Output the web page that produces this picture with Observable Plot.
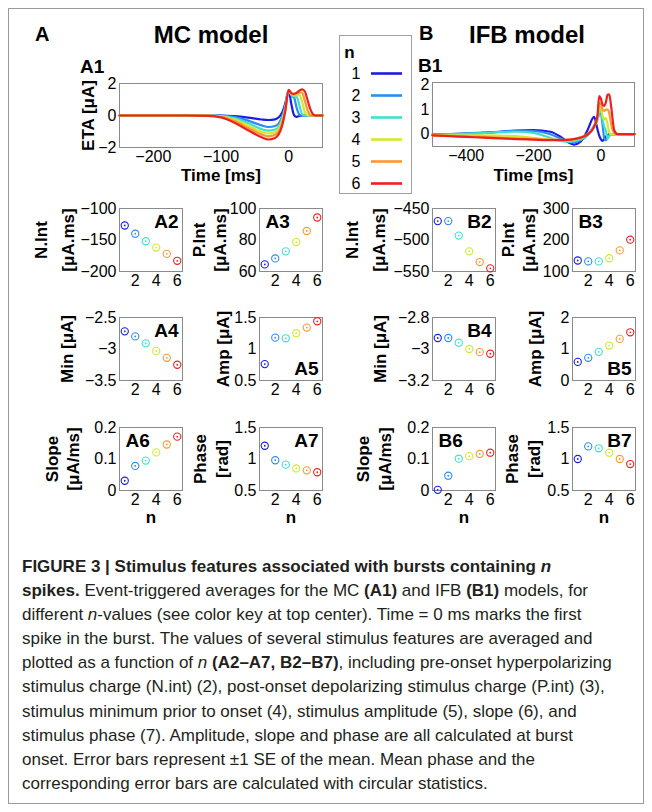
<!DOCTYPE html>
<html><head><meta charset="utf-8">
<script src="https://cdn.jsdelivr.net/npm/d3@7"></script>
<script src="https://cdn.jsdelivr.net/npm/@observablehq/plot@0.6"></script>
<style>
body{margin:0;background:#fff;}
#root{position:relative;width:652px;height:812px;font-family:"Liberation Sans",Arial,sans-serif;overflow:hidden;background:#fff;}
#border{position:absolute;left:8px;top:8px;width:634px;height:794px;border:1.5px solid #9a9a9a;}
.t{position:absolute;font-weight:bold;color:#000;white-space:nowrap;line-height:1;}
#legendbox{position:absolute;left:339px;top:35px;width:71px;height:157px;border:1px solid #a0a0a0;}
#caption{position:absolute;left:22px;top:555px;font-size:17px;line-height:24.1px;color:#231f20;}
#caption div{white-space:nowrap;}
</style></head>
<body>
<div id="root">
  <div id="border"></div>
  <div class="t" style="left:35px;top:24px;font-size:20px;">A</div>
  <div class="t" style="left:211px;top:23px;font-size:24px;transform:translateX(-50%);">MC model</div>
  <div class="t" style="left:419px;top:23px;font-size:20px;">B</div>
  <div class="t" style="left:527px;top:23px;font-size:24px;transform:translateX(-50%);">IFB model</div>
  <div class="t" style="left:80px;top:57px;font-size:19px;">A1</div>
  <div class="t" style="left:418px;top:56px;font-size:19px;">B1</div>
  <div id="legendbox"></div>
  <div id="caption">
    <div><b>FIGURE 3 | Stimulus features associated with bursts containing <i>n</i></b></div>
    <div><b>spikes.</b> Event-triggered averages for the MC <b>(A1)</b> and IFB <b>(B1)</b> models, for</div>
    <div>different <i>n</i>-values (see color key at top center). Time = 0 ms marks the first</div>
    <div>spike in the burst. The values of several stimulus features are averaged and</div>
    <div>plotted as a function of <i>n</i> <b>(A2–A7, B2–B7)</b>, including pre-onset hyperpolarizing</div>
    <div>stimulus charge (N.int) (2), post-onset depolarizing stimulus charge (P.int) (3),</div>
    <div>stimulus minimum prior to onset (4), stimulus amplitude (5), slope (6), and</div>
    <div>stimulus phase (7). Amplitude, slope and phase are all calculated at burst</div>
    <div>onset. Error bars represent ±1 SE of the mean. Mean phase and the</div>
    <div>corresponding error bars are calculated with circular statistics.</div>
  </div>
</div>
<script>
// ---------- data ----------
const nValues = [1, 2, 3, 4, 5, 6];
const colors = ["#1c1ce6", "#2b8cf2", "#3fe0d0", "#d2ea2a", "#ff9730", "#ee2020"];

// MC model event-triggered averages (A1)
const tMC = [-250,-200,-150,-120,-100,-80,-60,-40,-30,-20,-10,-5,0,4,8,12,16,20,24,28,32,36,40,50];
const mcEta1 = [0,0,0,0,0,-0.04,-0.13,-0.25,-0.28,-0.24,0.15,0.75,1.55,0.7,0.02,-0.08,-0.03,0,0,0,0,0,0,0];
const mcEta2 = [0,0,0,0,-0.01,-0.1,-0.32,-0.62,-0.72,-0.66,-0.1,0.6,1.55,1.25,1.12,0.45,0.05,0,0,0,0,0,0,0];
const mcEta3 = [0,0,0,0,-0.03,-0.18,-0.47,-0.85,-0.95,-0.88,-0.25,0.5,1.55,1.3,1.2,1.15,0.6,0.08,0,0,0,0,0,0];
const mcEta4 = [0,0,0,0,-0.05,-0.26,-0.62,-1.02,-1.12,-1.04,-0.38,0.42,1.55,1.33,1.25,1.27,1.28,0.85,0.2,0.02,0,0,0,0];
const mcEta5 = [0,0,0,-0.01,-0.08,-0.35,-0.77,-1.18,-1.3,-1.2,-0.52,0.35,1.57,1.36,1.3,1.36,1.45,1.42,0.9,0.3,0.03,0,0,0];
const mcEta6 = [0,0,0,-0.02,-0.12,-0.45,-0.92,-1.36,-1.5,-1.4,-0.68,0.28,1.6,1.4,1.35,1.43,1.56,1.63,1.5,0.95,0.4,0.08,0,0];

// IFB model event-triggered averages (B1)
const tIFB = [-500,-450,-400,-350,-300,-250,-200,-150,-120,-100,-80,-60,-40,-20,-10,-5,0,5,10,15,20,25,30,40,50,100];
const ifbEta1 = [-0.02,0,0.02,0.05,0.1,0.15,0.17,0.1,-0.1,-0.3,-0.42,-0.3,0.15,0.7,0.2,-0.05,-0.2,-0.27,-0.2,-0.1,-0.05,0,0,0,0,0];
const ifbEta2 = [-0.02,0,0.03,0.06,0.1,0.14,0.13,0,-0.18,-0.3,-0.33,-0.25,-0.05,0.35,0.6,0.8,0.85,0.4,-0.15,-0.25,-0.12,-0.03,0,0,0,0];
const ifbEta3 = [-0.03,-0.01,0.01,0.04,0.08,0.1,0.05,-0.15,-0.27,-0.3,-0.28,-0.2,-0.05,0.3,0.6,0.9,1.0,0.6,0.3,0.15,-0.18,-0.08,0,0,0,0];
const ifbEta4 = [-0.05,-0.05,-0.05,-0.05,-0.06,-0.08,-0.15,-0.22,-0.25,-0.25,-0.22,-0.15,-0.02,0.3,0.65,1.1,1.1,0.75,0.6,0.65,0.4,0.08,0,0,0,0];
const ifbEta5 = [-0.05,-0.07,-0.09,-0.11,-0.14,-0.17,-0.2,-0.22,-0.23,-0.22,-0.2,-0.13,0,0.3,0.7,1.25,1.25,1.0,0.95,1.0,1.0,0.85,0.45,0.03,0,0];
const ifbEta6 = [-0.05,-0.08,-0.11,-0.14,-0.17,-0.2,-0.22,-0.24,-0.24,-0.23,-0.2,-0.14,-0.02,0.3,0.75,1.55,1.45,1.2,1.15,1.3,1.6,1.62,1.2,0.15,0,0];

// stimulus features vs n
const mcNInt  = [-127, -140, -152, -162, -172, -183];
const mcPInt  = [64.5, 68.3, 72.8, 78.7, 85.7, 94.3];
const mcMin   = [-2.72, -2.80, -2.91, -3.03, -3.14, -3.25];
const mcAmp   = [0.76, 1.18, 1.17, 1.25, 1.34, 1.44];
const mcSlope = [0.031, 0.078, 0.095, 0.121, 0.146, 0.171];
const mcPhase = [1.21, 0.98, 0.91, 0.85, 0.82, 0.79];
const ifbNInt  = [-470, -470, -493, -518, -535, -545];
const ifbPInt  = [135, 132, 132, 142, 167, 201];
const ifbMin   = [-2.93, -2.93, -2.96, -3.00, -3.02, -3.03];
const ifbAmp   = [0.59, 0.72, 0.91, 1.11, 1.32, 1.53];
const ifbSlope = [0.002, 0.047, 0.101, 0.109, 0.116, 0.120];
const ifbPhase = [1.0, 1.2, 1.17, 1.1, 1.0, 0.92];

// tick labels
const nTicks = [2, 4, 6];
const ticksA1x = [-200, -100, 0], ticksA1y = [-2, 0, 2];
const ticksB1x = [-400, -200, 0], ticksB1y = [0, 1, 2];
const ticksNIntMC = [-200, -150, -100], ticksPIntMC = [60, 80, 100];
const ticksMinMC = [-3.5, -3, -2.5], ticksAmpMC = [0.5, 1, 1.5];
const ticksSlope = [0, 0.1, 0.2], ticksPhase = [0.5, 1, 1.5];
const ticksNIntIFB = [-550, -500, -450], ticksPIntIFB = [100, 200, 300];
const ticksMinIFB = [-3.2, -3, -2.8], ticksAmpIFB = [0, 1, 2];

// ---------- drawing ----------
const fmt = d3.format("");
const root = document.getElementById("root");
const FONT = "'Liberation Sans', Arial, sans-serif";
function place(el, left, top) {
  el.style.position = "absolute";
  el.style.left = left + "px";
  el.style.top = top + "px";
  root.appendChild(el);
}
const ML = 110, MR = 14, MT = 12, MB = 48;
function chart({fx, fy, fw, fh, xDomain, xTicks, yDomain, yTicks, marks, ylabels, xlabel, xlabelDy, tag, tagAnchor}) {
  const m = [Plot.frame({stroke: "#8a8a8a", strokeWidth: 1}), ...marks];
  (ylabels || []).forEach(([t, dx]) => m.push(Plot.text([t], {text: d => d, frameAnchor: "left", dx, rotate: -90, textAnchor: "middle", lineAnchor: "middle", fontWeight: "bold", fontSize: 17})));
  if (xlabel) m.push(Plot.text([xlabel], {text: d => d, frameAnchor: "bottom", dy: xlabelDy, lineAnchor: "middle", fontWeight: "bold", fontSize: 17}));
  if (tag) {
    const right = tagAnchor.includes("right");
    const bottom = tagAnchor.includes("bottom");
    m.push(Plot.text([tag], {text: d => d, frameAnchor: tagAnchor, dx: right ? -4 : 6, dy: bottom ? -6 : 6, fontWeight: "bold", fontSize: 19}));
  }
  const svg = Plot.plot({
    width: fw + ML + MR, height: fh + MT + MB,
    marginLeft: ML, marginRight: MR, marginTop: MT, marginBottom: MB,
    style: {fontFamily: FONT, fontSize: "16px", overflow: "visible", background: "none", color: "#000"},
    x: {domain: xDomain, ticks: xTicks, tickFormat: fmt, tickSize: 0, tickPadding: 3, label: null},
    y: {domain: yDomain, ticks: yTicks, tickFormat: fmt, tickSize: 0, tickPadding: 3, label: null},
    color: {type: "ordinal", domain: nValues, range: colors},
    marks: m
  });
  place(svg, fx - ML, fy - MT);
}

function lineRows(times, series) {
  return series.flatMap((arr, i) => arr.map((v, j) => ({n: nValues[i], t: times[j], v})));
}
function dotMarks(values) {
  const rows = nValues.map((n, i) => ({n, v: values[i]}));
  return [
    Plot.dot(rows, {x: "n", y: "v", r: 3.6, stroke: "n", strokeWidth: 1.1, fill: "none"}),
    Plot.dot(rows, {x: "n", y: "v", r: 0.9, fill: "n", stroke: "none"})
  ];
}

// A1
chart({fx: 119, fy: 83, fw: 203, fh: 64, xDomain: [-250, 50], xTicks: ticksA1x, yDomain: [-2, 2], yTicks: ticksA1y,
  marks: [Plot.line(lineRows(tMC, [mcEta1, mcEta2, mcEta3, mcEta4, mcEta5, mcEta6]), {x: "t", y: "v", z: "n", stroke: "n", strokeWidth: 2.2, curve: "monotone-x"})],
  ylabels: [["ETA [μA]", -31]], xlabel: "Time [ms]", xlabelDy: 28});
// B1
chart({fx: 432, fy: 82, fw: 202, fh: 64, xDomain: [-500, 100], xTicks: ticksB1x, yDomain: [-0.5, 2.1], yTicks: ticksB1y,
  marks: [Plot.line(lineRows(tIFB, [ifbEta1, ifbEta2, ifbEta3, ifbEta4, ifbEta5, ifbEta6]), {x: "t", y: "v", z: "n", stroke: "n", strokeWidth: 2.2, curve: "monotone-x"})],
  xlabel: "Time [ms]", xlabelDy: 29});

const colX = [119, 259, 432, 572];
const rowY = [208, 317, 427];
const small = [
  {c: 0, r: 0, vals: mcNInt, ticks: ticksNIntMC, yl: [["N.Int", -78], ["[μA.ms]", -51]], tag: "A2", ta: "top-right"},
  {c: 1, r: 0, vals: mcPInt, ticks: ticksPIntMC, yl: [["P.Int", -60], ["[μA.ms]", -39]], tag: "A3", ta: "top-left"},
  {c: 0, r: 1, vals: mcMin, ticks: ticksMinMC, yl: [["Min [μA]", -52]], tag: "A4", ta: "top-right"},
  {c: 1, r: 1, vals: mcAmp, ticks: ticksAmpMC, yl: [["Amp [μA]", -36]], tag: "A5", ta: "bottom-right"},
  {c: 0, r: 2, vals: mcSlope, ticks: ticksSlope, yl: [["Slope", -67], ["[μA/ms]", -46]], tag: "A6", ta: "top-left"},
  {c: 1, r: 2, vals: mcPhase, ticks: ticksPhase, yl: [["Phase", -59], ["[rad]", -37]], tag: "A7", ta: "top-right"},
  {c: 2, r: 0, vals: ifbNInt, ticks: ticksNIntIFB, yl: [["N.Int", -80], ["[μA.ms]", -53]], tag: "B2", ta: "top-right"},
  {c: 3, r: 0, vals: ifbPInt, ticks: ticksPIntIFB, yl: [["P.Int", -64], ["[μA.ms]", -43]], tag: "B3", ta: "top-left"},
  {c: 2, r: 1, vals: ifbMin, ticks: ticksMinIFB, yl: [["Min [μA]", -52]], tag: "B4", ta: "top-right"},
  {c: 3, r: 1, vals: ifbAmp, ticks: ticksAmpIFB, yl: [["Amp [μA]", -37]], tag: "B5", ta: "bottom-right"},
  {c: 2, r: 2, vals: ifbSlope, ticks: ticksSlope, yl: [["Slope", -69], ["[μA/ms]", -47]], tag: "B6", ta: "top-left"},
  {c: 3, r: 2, vals: ifbPhase, ticks: ticksPhase, yl: [["Phase", -60], ["[rad]", -38]], tag: "B7", ta: "top-right"}
];
for (const p of small) {
  chart({fx: colX[p.c], fy: rowY[p.r], fw: 63, fh: 63, xDomain: [0.5, 6.5], xTicks: nTicks,
    yDomain: [p.ticks[0], p.ticks[p.ticks.length - 1]], yTicks: p.ticks,
    marks: dotMarks(p.vals), ylabels: p.yl, xlabel: p.r === 2 ? "n" : null, xlabelDy: 27, tag: p.tag, tagAnchor: p.ta});
}

// legend (color key)
const legend = Plot.plot({
  width: 72, height: 158, marginTop: 37, marginBottom: 10, marginLeft: 0, marginRight: 0,
  style: {fontFamily: FONT, fontSize: "16px", overflow: "visible", background: "none", color: "#000"},
  x: {axis: null, domain: [0, 1]},
  y: {type: "point", domain: nValues, axis: null, padding: 0},
  color: {type: "ordinal", domain: nValues, range: colors},
  marks: [
    Plot.ruleY(nValues, {y: d => d, stroke: d => d, strokeWidth: 2.6, insetLeft: 32, insetRight: 9}),
    Plot.text(nValues, {y: d => d, text: d => String(d), frameAnchor: "left", dx: 12}),
    Plot.text(["n"], {text: d => d, frameAnchor: "top-left", dx: 10, dy: -20, lineAnchor: "middle", textAnchor: "middle", fontWeight: "bold", fontSize: 17})
  ]
});
place(legend, 339, 35);
</script>
</body></html>
